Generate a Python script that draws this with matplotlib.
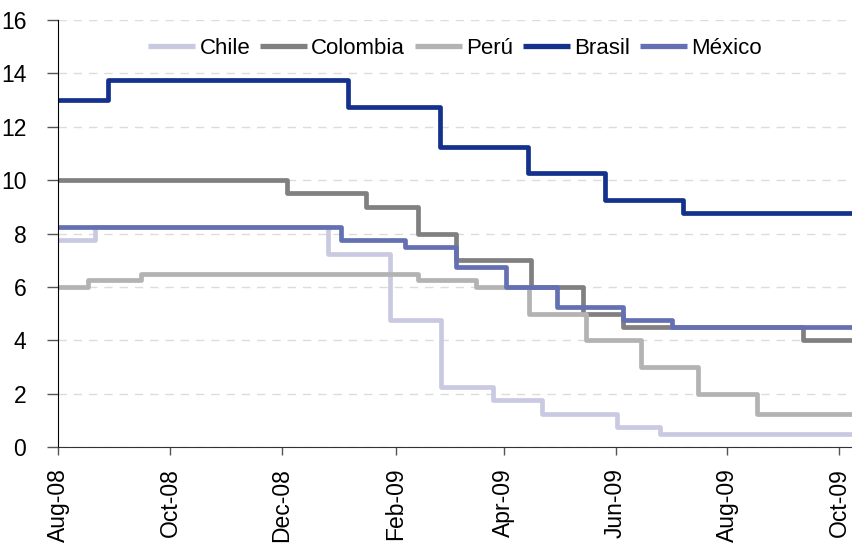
import matplotlib
matplotlib.use("Agg")
import matplotlib.pyplot as plt
import matplotlib.dates as mdates
import numpy as np
import pandas as pd

# ---- data: policy-rate change dates and levels ----
chile_dates = ["2008-08-01", "2008-08-21", "2008-12-26", "2009-01-29", "2009-02-26",
               "2009-03-26", "2009-04-22", "2009-06-02", "2009-06-25"]
chile_vals = [7.75, 8.25, 7.25, 4.75, 2.25, 1.75, 1.25, 0.75, 0.5]

colombia_dates = ["2008-08-01", "2008-12-04", "2009-01-16", "2009-02-13", "2009-03-06",
                  "2009-04-16", "2009-05-14", "2009-06-05", "2009-09-11"]
colombia_vals = [10.0, 9.5, 9.0, 8.0, 7.0, 6.0, 5.0, 4.5, 4.0]

peru_dates = ["2008-08-01", "2008-08-17", "2008-09-15", "2009-02-13", "2009-03-17",
              "2009-04-15", "2009-05-16", "2009-06-15", "2009-07-16", "2009-08-17"]
peru_vals = [6.0, 6.25, 6.5, 6.25, 6.0, 5.0, 4.0, 3.0, 2.0, 1.25]

brasil_dates = ["2008-08-01", "2008-08-28", "2009-01-06", "2009-02-25", "2009-04-14",
                "2009-05-26", "2009-07-08"]
brasil_vals = [13.0, 13.75, 12.75, 11.25, 10.25, 9.25, 8.75]

mexico_dates = ["2008-08-01", "2009-01-02", "2009-02-06", "2009-03-06", "2009-04-02",
                "2009-04-30", "2009-06-05", "2009-07-02"]
mexico_vals = [8.25, 7.75, 7.5, 6.75, 6.0, 5.25, 4.75, 4.5]

series_names = ["Chile", "Colombia", "Perú", "Brasil", "México"]
series_dates = [chile_dates, colombia_dates, peru_dates, brasil_dates, mexico_dates]
series_vals = [chile_vals, colombia_vals, peru_vals, brasil_vals, mexico_vals]
series_colors = ["#c9c9e2", "#808080", "#b3b3b3", "#14318c", "#6570b3"]

x_start = "2008-08-01"
x_end = "2009-10-08"
tick_dates = ["2008-08-01", "2008-10-01", "2008-12-01", "2009-02-01", "2009-04-01",
              "2009-06-01", "2009-08-01", "2009-10-01"]

plt.rcParams['font.family'] = ['Liberation Sans', 'DejaVu Sans']

fig = plt.figure(figsize=(8.52, 5.45), dpi=100)
ax = fig.add_axes([0.0684, 0.1798, 0.9316, 0.7835])

end = pd.Timestamp(x_end)
for name, d, v, c in zip(series_names, series_dates, series_vals, series_colors):
    dd = list(pd.to_datetime(d)) + [end]
    vv = list(v) + [v[-1]]
    ax.step(dd, vv, where="post", color=c, lw=3.4, label=name,
            solid_joinstyle="round", solid_capstyle="butt")

ax.set_xlim(pd.Timestamp(x_start), end)
ax.set_ylim(0, 16)
ax.set_yticks(np.arange(0, 17, 2))
ax.set_xticks(pd.to_datetime(tick_dates))
ax.xaxis.set_major_formatter(mdates.DateFormatter("%b-%y"))

ax.grid(axis="y", color="#dcdcdc", linestyle=(0, (6, 5)), lw=1)
ax.set_axisbelow(True)
for s in ["top", "right"]:
    ax.spines[s].set_visible(False)
ax.spines["left"].set_color("black")
ax.spines["bottom"].set_color("#333333")

ax.tick_params(axis="y", direction="out", length=8, width=1, color="#555555",
               labelsize=16.5, pad=15)
ax.tick_params(axis="x", direction="out", length=6, width=1, color="#555555",
               labelsize=16.5, rotation=90, pad=9)

leg = ax.legend(loc="upper center", bbox_to_anchor=(0.5, 1.0), ncol=5,
                frameon=True, facecolor="white", edgecolor="none", framealpha=1,
                handlelength=2.1, handletextpad=0.2, columnspacing=0.45,
                borderpad=0.3, prop={'size': 16})
for line in leg.get_lines():
    line.set_linewidth(3.8)

fig.savefig("out.png", dpi=100)
